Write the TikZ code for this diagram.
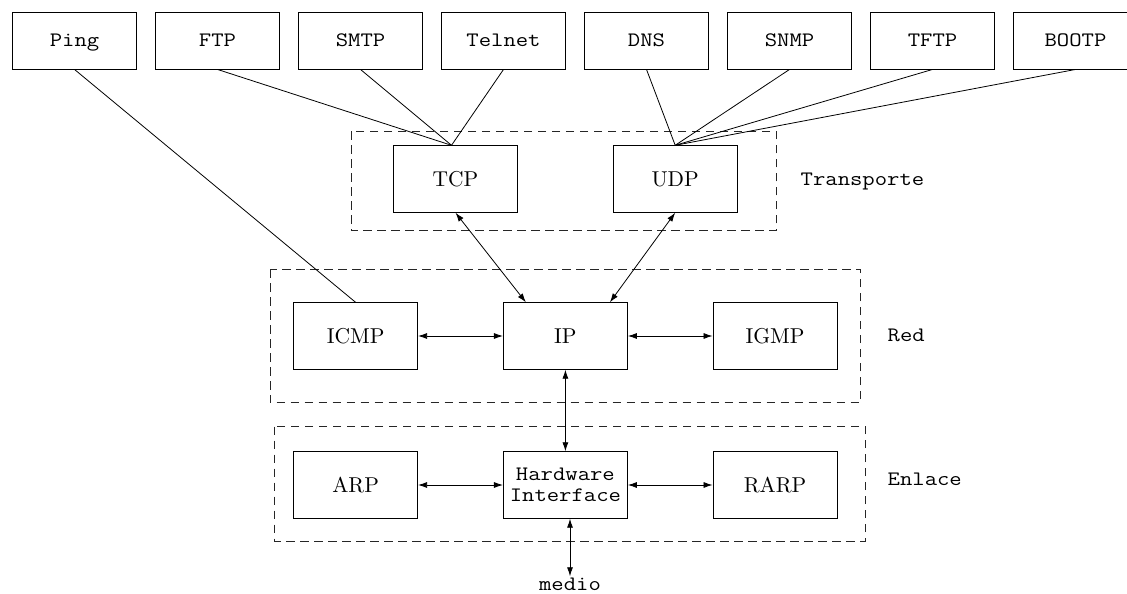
\documentclass[tikz,border=0pt]{standalone}
\usepackage{fontspec}
\setmonofont{Latin Modern Mono}[FakeStretch=1.17]
\newfontfamily\protofont{lmroman10-regular}[Extension=.otf]
\usetikzlibrary{arrows.meta,calc}

\newcommand{\monosize}{\fontsize{20.5}{21.5}\selectfont\ttfamily}
\newcommand{\romansize}{\fontsize{21.5}{24}\selectfont\protofont}

\tikzset{
  appbox/.style={draw, line width=0.9pt, minimum width=124pt, minimum height=57pt,
    inner sep=0pt, text height=12.5pt, text depth=0pt, font=\monosize},
  protobox/.style={draw, line width=0.9pt, minimum width=124pt, minimum height=66.5pt,
    inner sep=0pt, text height=14.7pt, text depth=0pt, font=\romansize},
  hwbox/.style={draw, line width=0.9pt, minimum width=124pt, minimum height=66.5pt,
    inner sep=0pt, align=center, font=\monosize},
  layerbox/.style={draw, line width=0.8pt, dash pattern=on 8.5pt off 5.5pt, black!85},
  layerlabel/.style={anchor=base west, inner sep=0pt, font=\monosize},
  link/.style={line width=0.8pt},
  biarrow/.style={line width=0.8pt, {Latex[length=9pt,width=6pt]}-{Latex[length=9pt,width=6pt]}}
}

\begin{document}
\begin{tikzpicture}[x=1pt, y=-1pt]
\clip (0,0) rectangle (1127,594);
\fill[white] (0,0) rectangle (1127,594);

% application protocols
\node[appbox] (ping)   at (74.5,40.5)   {Ping};
\node[appbox] (ftp)    at (217.5,40.5)  {FTP};
\node[appbox] (smtp)   at (360.5,40.5)  {SMTP};
\node[appbox] (telnet) at (503.5,40.5)  {Telnet};
\node[appbox] (dns)    at (646.5,40.5)  {DNS};
\node[appbox] (snmp)   at (789.5,40.5)  {SNMP};
\node[appbox] (tftp)   at (932.5,40.5)  {TFTP};
\node[appbox] (bootp)  at (1075.5,40.5) {BOOTP};

% layer frames
\draw[layerbox] (351,131) rectangle (775.9,230.7);
\draw[layerbox] (269.9,269.3) rectangle (860.8,402.7);
\draw[layerbox] (274.6,426.7) rectangle (865.5,541);

\node[layerlabel] (ltrans) at (800.5,185) {Transporte};
\node[layerlabel] (lred)   at (887.5,341.7) {Red};
\node[layerlabel] (lenl)   at (887.5,485) {Enlace};

% transport layer
\node[protobox] (tcp) at (455.5,179) {TCP};
\node[protobox] (udp) at (675.2,179) {UDP};

% network layer
\node[protobox] (icmp) at (355.6,336) {ICMP};
\node[protobox] (ip)   at (565.4,336) {IP};
\node[protobox] (igmp) at (775,336)   {IGMP};

% link layer
\node[protobox] (arp)  at (355.6,485) {ARP};
\node[hwbox]    (hw)   at (565.4,485) {Hardware\\Interface};
\node[protobox] (rarp) at (775,485)   {RARP};

\node[inner sep=1pt, font=\monosize, anchor=base] (medio) at (570,590) {medio};

% applications down to transport
\draw[link] (ftp.south)    -- ([xshift=-4pt]tcp.north);
\draw[link] (smtp.south)   -- ([xshift=-4pt]tcp.north);
\draw[link] (telnet.south) -- ([xshift=-4pt]tcp.north);
\draw[link] (dns.south)    -- (udp.north);
\draw[link] (snmp.south)   -- (udp.north);
\draw[link] (tftp.south)   -- (udp.north);
\draw[link] (bootp.south)  -- (udp.north);
\draw[link] (ping.south)   -- (icmp.north);

% transport <-> network
\draw[biarrow] (tcp.south) -- ([xshift=-39.5pt]ip.north);
\draw[biarrow] (udp.south) -- ([xshift=44.5pt]ip.north);

% network layer
\draw[biarrow] (icmp.east) -- (ip.west);
\draw[biarrow] (ip.east) -- (igmp.west);
\draw[biarrow] (ip.south) -- (hw.north);

% link layer
\draw[biarrow] (arp.east) -- (hw.west);
\draw[biarrow] (hw.east) -- (rarp.west);
\draw[biarrow] ([xshift=4.6pt]hw.south) -- (medio.north);
\end{tikzpicture}
\end{document}
